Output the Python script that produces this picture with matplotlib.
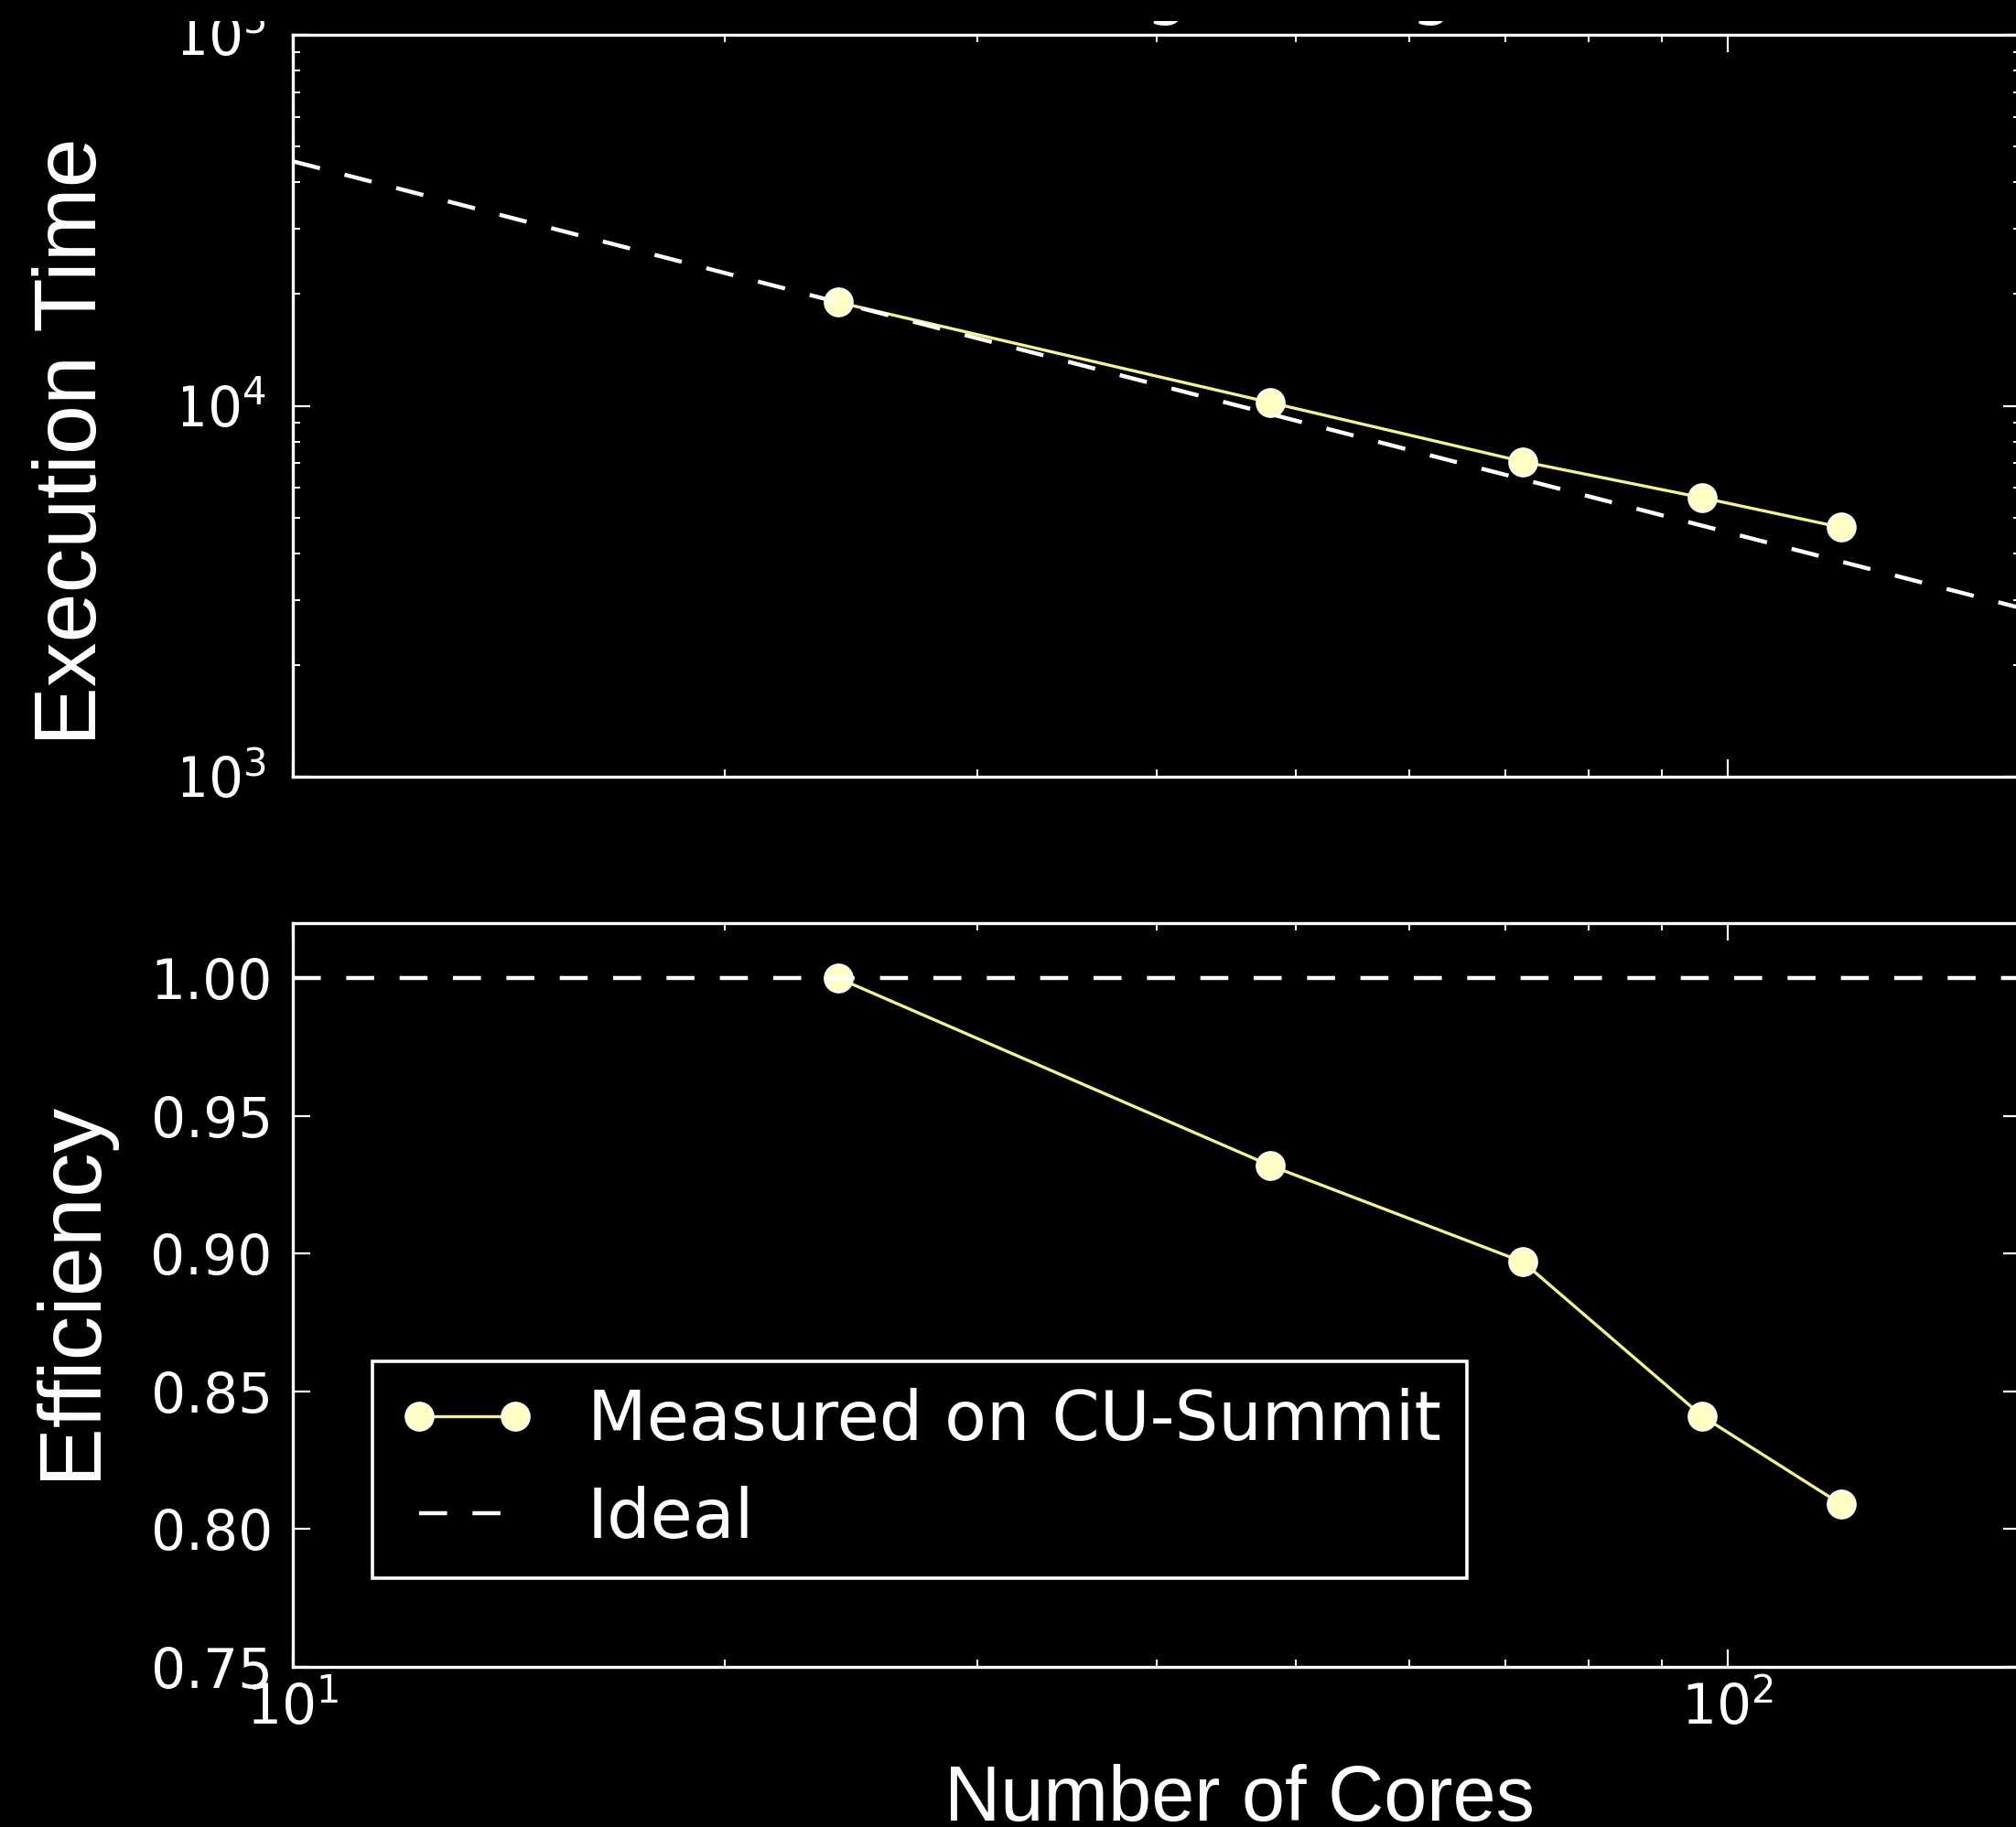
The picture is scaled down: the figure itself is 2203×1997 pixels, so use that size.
import matplotlib
matplotlib.use("Agg")
import matplotlib.pyplot as plt
from matplotlib.patches import Rectangle
from matplotlib.ticker import FormatStrFormatter

# data
cores = [24, 48, 72, 96, 120]
exec_time = [19000, 10200, 7070, 5650, 4700]
efficiency = [1.000, 0.932, 0.897, 0.841, 0.809]

ideal_cores = [10, 160]
ideal_time = [45600, 2850]
ideal_eff = [1.0, 1.0]

W, H = 2203, 1997
plt.rcParams['lines.scale_dashes'] = False

fig = plt.figure(figsize=(W / 100, H / 100), dpi=100, facecolor='black')

def px_axes(left, top, right, bottom):
    return fig.add_axes([left / W, 1 - bottom / H, (right - left) / W, (bottom - top) / H])

ax1 = px_axes(320, 38, 2208, 849)
ax2 = px_axes(320, 1009, 2208, 1822)

line_col = '#f4f48c'
face_col = '#ffffc4'
dash = (0, (22, 20))

for ax in (ax1, ax2):
    ax.set_facecolor('black')
    ax.set_xscale('log')
    ax.set_xlim(10, 160)
    for sp in ax.spines.values():
        sp.set_color('white')
        sp.set_linewidth(2.4)
    ax.tick_params(which='both', direction='in', top=True, right=True,
                   colors='white', labelsize=43, pad=16)
    ax.tick_params(which='major', length=14, width=1.6)
    ax.tick_params(which='minor', length=6, width=1.4)

# top: execution time
ax1.set_yscale('log')
ax1.set_ylim(1e3, 1e5)
ax1.plot(cores, exec_time, '-o', color=line_col, lw=2.4, ms=22,
         mfc=face_col, mec='white', mew=1.5)
ax1.plot(ideal_cores, ideal_time, color='white', lw=3.2, linestyle=dash)
ax1.tick_params(axis='x', labelbottom=False)
ax1.tick_params(axis='y', pad=21)
ax1.text(0.531, 1.032, 'Strong Scaling', transform=ax1.transAxes, ha='center',
         va='baseline', fontsize=53, color='white', clip_on=False)

# bottom: efficiency
ax2.set_ylim(0.75, 1.02)
ax2.set_yticks([0.75, 0.80, 0.85, 0.90, 0.95, 1.00])
ax2.yaxis.set_major_formatter(FormatStrFormatter('%.2f'))
ax2.plot(cores, efficiency, '-o', color=line_col, lw=2.4, ms=22,
         mfc=face_col, mec='white', mew=1.5, label='Measured on CU-Summit')
ax2.plot(ideal_cores, ideal_eff, color='white', lw=3.2, linestyle=dash, label='Ideal')
ax2.tick_params(axis='x', pad=12)

leg = ax2.legend(loc='lower left', bbox_to_anchor=(407 / W, 1 - 1725 / H),
                 bbox_transform=fig.transFigure, borderaxespad=0, fontsize=54,
                 numpoints=2, handlelength=2.0, handletextpad=0.75,
                 borderpad=0.38, labelspacing=0.45, fancybox=False,
                 framealpha=1, facecolor='black', edgecolor='white')
leg.get_frame().set_linewidth(2.6)
for t in leg.get_texts():
    t.set_color('white')

# crop of the original picture (left edge of the top labels and top strip)
fig.patches.append(Rectangle((0, 1 - 880 / H), 200 / W, 880 / H, transform=fig.transFigure,
                             facecolor='black', edgecolor='none', zorder=2))
fig.patches.append(Rectangle((0, 1 - 23 / H), 1, 23 / H, transform=fig.transFigure,
                             facecolor='black', edgecolor='none', zorder=2))

lab = dict(color='white', family='Liberation Sans', zorder=3)
fig.text(105 / W, 1 - 483 / H, 'Execution Time', rotation=90, rotation_mode='anchor',
         ha='center', va='baseline', fontsize=70, **lab)
fig.text(103 / W, 1 - 1410 / H, 'Efficiency', rotation=90, rotation_mode='anchor',
         ha='center', va='baseline', fontsize=70, **lab)
fig.text(1354 / W, 1 - 1990 / H, 'Number of Cores', ha='center', va='baseline',
         fontsize=61, **lab)

fig.savefig('out.png', dpi=100, facecolor='black')
